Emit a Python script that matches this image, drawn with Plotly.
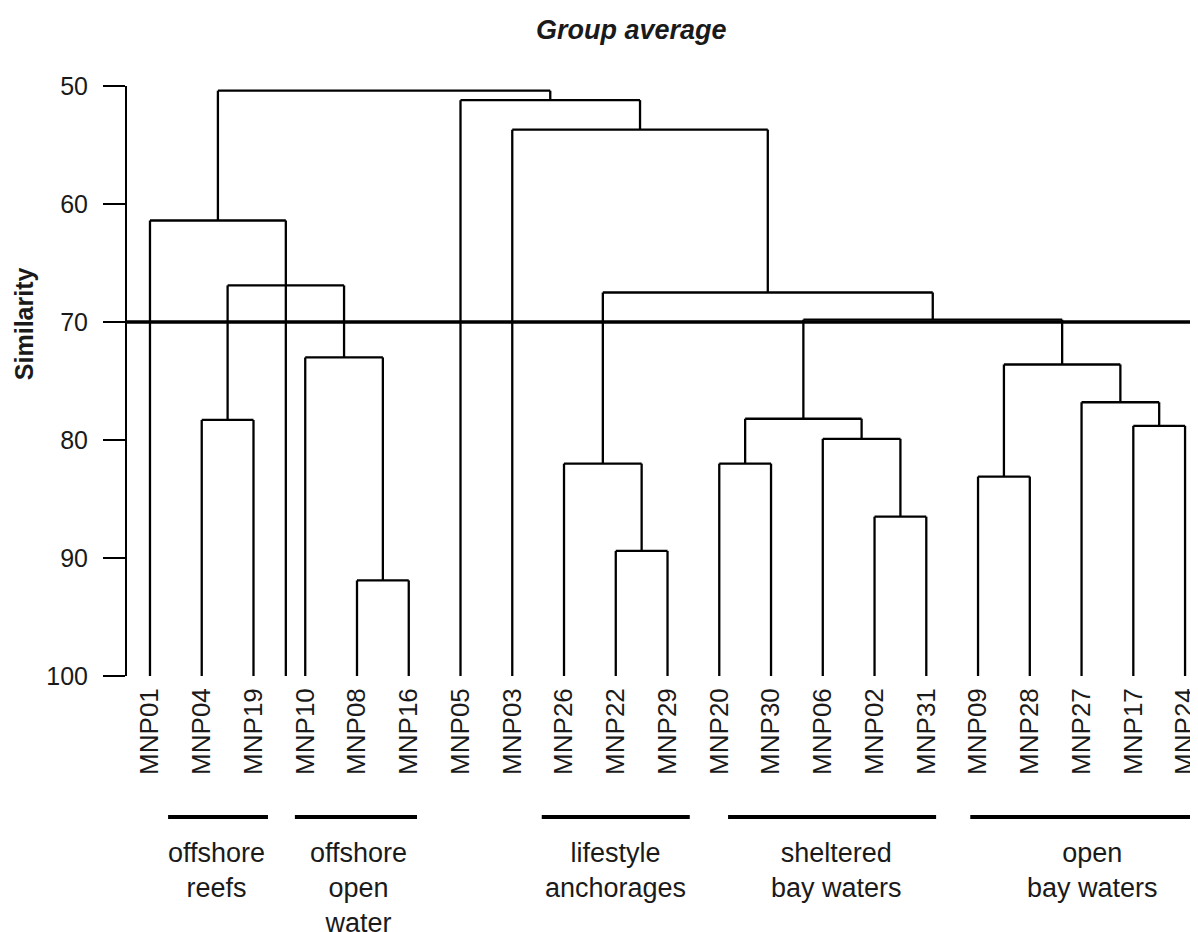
import plotly.graph_objects as go

# ---------------- data ----------------
leaf_labels = ["MNP01", "MNP04", "MNP19", "MNP10", "MNP08", "MNP16", "MNP05", "MNP03",
               "MNP26", "MNP22", "MNP29", "MNP20", "MNP30", "MNP06", "MNP02", "MNP31",
               "MNP09", "MNP28", "MNP27", "MNP17", "MNP24"]
# merges (scipy-like numbering: leaves 0..20, clusters 21+ in this order)
merge_left = [4, 9, 14, 16, 11, 8, 13, 19, 1, 25, 18, 24, 3, 30, 29, 26, 7, 6, 0, 39]
merge_right = [5, 10, 15, 17, 12, 22, 23, 20, 2, 27, 28, 31, 21, 32, 33, 34, 36, 37, 35, 38]
merge_similarity = [91.9, 89.4, 86.5, 83.1, 82.0, 82.0, 79.9, 78.8, 78.3, 78.2,
                    76.8, 73.6, 73.0, 69.8, 66.9, 67.5, 53.7, 51.2, 61.4, 50.4]
drop_to_base = [35]          # cluster whose stem is drawn down to the baseline in the original
base_similarity = 100
cut_similarity = 70

group_names = ["offshore<br>reefs", "offshore<br>open<br>water", "lifestyle<br>anchorages",
               "sheltered<br>bay waters", "open<br>bay waters"]
group_start = [0.35, 2.80, 7.57, 11.17, 15.85]
group_end = [2.28, 5.16, 10.43, 15.19, 20.3]
group_center = [1.28, 4.02, 9.0, 13.26, 18.22]

# ---------------- build dendrogram segments ----------------
n = len(leaf_labels)
pos = {i: float(i) for i in range(n)}
hgt = {i: float(base_similarity) for i in range(n)}
xs, ys = [], []
for k, (a, b, h) in enumerate(zip(merge_left, merge_right, merge_similarity)):
    cid = n + k
    pos[cid] = (pos[a] + pos[b]) / 2
    hgt[cid] = h
    for c in (a, b):
        bottom = base_similarity if c in drop_to_base else hgt[c]
        xs += [pos[c], pos[c], None]
        ys += [bottom, h, None]
    xs += [pos[a], pos[b], None]
    ys += [h, h, None]

fig = go.Figure()
fig.add_trace(go.Scatter(x=xs, y=ys, mode="lines",
                         line=dict(color="black", width=2.3),
                         hoverinfo="skip", showlegend=False, cliponaxis=False))

# cut line
fig.add_shape(type="line", xref="paper", yref="y", x0=0, x1=1,
              y0=cut_similarity, y1=cut_similarity,
              line=dict(color="black", width=3.5))

# group underlines and labels
for name, s, e, c in zip(group_names, group_start, group_end, group_center):
    fig.add_shape(type="line", xref="x", yref="paper", x0=s, x1=e,
                  y0=-0.239, y1=-0.239, line=dict(color="black", width=4))
    fig.add_annotation(x=c, y=-0.272, xref="x", yref="paper", text=name,
                       showarrow=False, yanchor="top", xanchor="center",
                       font=dict(family="Liberation Sans", size=27, color="#1a1a1a"))

# axis title and chart title
fig.add_annotation(x=-0.0962, y=0.598, xref="paper", yref="paper",
                   text="<b>Similarity</b>", textangle=-90, showarrow=False,
                   xanchor="center", yanchor="middle",
                   font=dict(family="Liberation Sans", size=25, color="#1a1a1a"))
fig.add_annotation(x=0.4715, y=1.095, xref="paper", yref="paper",
                   text="<b><i>Group average</i></b>", showarrow=False,
                   xanchor="center", yanchor="middle",
                   font=dict(family="Liberation Sans", size=27, color="#1a1a1a"))

fig.update_layout(
    width=1190, height=924,
    margin=dict(l=119, r=0, t=78, b=256),
    paper_bgcolor="white", plot_bgcolor="white",
    font=dict(family="Liberation Sans", color="#1a1a1a"),
    showlegend=False,
)
fig.update_xaxes(range=[-0.444, 20.25], tickvals=list(range(n)), ticktext=leaf_labels,
                 tickangle=-90, ticks="", showline=False, showgrid=False, zeroline=False,
                 tickfont=dict(size=26, family="Liberation Sans", color="#1a1a1a"),
                 ticklabelstandoff=6, ticklabeloverflow="allow", automargin=False)
fig.update_yaxes(range=[100, 50], tickvals=[50, 60, 70, 80, 90, 100],
                 ticks="outside", ticklen=22, tickwidth=2, tickcolor="black",
                 showline=True, linecolor="black", linewidth=2,
                 showgrid=False, zeroline=False,
                 tickfont=dict(size=25, family="Liberation Sans", color="#1a1a1a"),
                 ticklabelstandoff=10, automargin=False)

fig.write_html("out.html")
